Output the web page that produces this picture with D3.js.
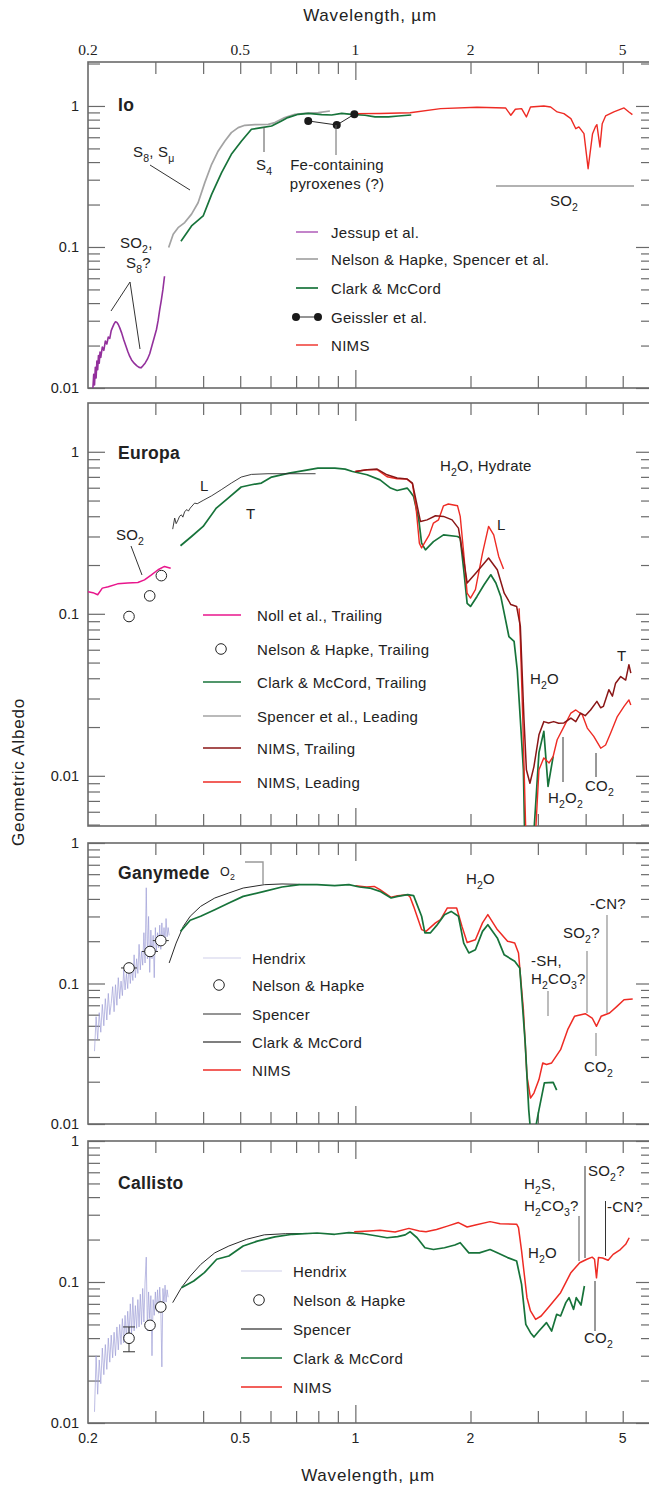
<!DOCTYPE html>
<html>
<head>
<meta charset="utf-8">
<script src="https://cdn.jsdelivr.net/npm/d3@7"></script>
<style>
  body { margin: 0; background: #fff; }
  svg text { font-family: "Liberation Sans", Arial, sans-serif; fill: #222; }
</style>
</head>
<body>
<div id="chart"></div>
<script>
// ---- data: [wavelength (um), geometric albedo] ----
var ioJessup = [[0.206,0.0100],[0.207,0.0125],[0.208,0.0105],[0.209,0.0140],[0.210,0.0118],[0.211,0.0155],[0.212,0.0135],[0.213,0.0170],[0.214,0.0150],[0.215,0.0180],[0.216,0.0165],[0.218,0.0195],[0.220,0.0185],[0.222,0.0215],[0.224,0.0205],[0.226,0.0230],[0.228,0.0225],[0.230,0.0255],[0.232,0.0270],[0.234,0.0285],[0.236,0.0295],[0.238,0.0292],[0.240,0.0282],[0.242,0.0268],[0.245,0.0245],[0.248,0.0220],[0.251,0.0200],[0.254,0.0182],[0.257,0.0168],[0.260,0.0158],[0.264,0.0150],[0.268,0.0144],[0.272,0.0140],[0.275,0.0139],[0.278,0.0143],[0.282,0.0150],[0.286,0.0160],[0.290,0.0175],[0.294,0.0200],[0.298,0.0228],[0.302,0.0260],[0.305,0.0300],[0.308,0.0360],[0.311,0.0420],[0.314,0.0500],[0.317,0.0620]];
var ioNelsonSpencer = [[0.325,0.099],[0.334,0.123],[0.344,0.137],[0.358,0.149],[0.373,0.171],[0.388,0.206],[0.404,0.286],[0.421,0.386],[0.438,0.480],[0.456,0.565],[0.474,0.647],[0.494,0.702],[0.514,0.729],[0.546,0.737],[0.592,0.741],[0.616,0.762],[0.654,0.827],[0.695,0.873],[0.738,0.887],[0.80,0.897],[0.858,0.921]];
var ioClark = [[0.350,0.110],[0.373,0.141],[0.400,0.166],[0.421,0.236],[0.447,0.337],[0.474,0.454],[0.504,0.565],[0.535,0.684],[0.569,0.702],[0.604,0.721],[0.641,0.783],[0.666,0.827],[0.709,0.873],[0.753,0.887],[0.817,0.868],[0.867,0.863],[0.921,0.887],[0.978,0.873],[1.06,0.859],[1.126,0.836],[1.22,0.836],[1.296,0.849],[1.40,0.863]];
var ioGeissler = [[0.753,0.783],[0.894,0.733],[0.994,0.873]];
var ioNims = [[1.00,0.882],[1.16,0.885],[1.39,0.896],[1.67,0.957],[2.08,0.979],[2.47,0.968],[2.55,0.859],[2.62,0.948],[2.72,0.957],[2.80,0.836],[2.87,0.984],[3.11,1.0],[3.24,0.984],[3.37,0.907],[3.51,0.882],[3.66,0.813],[3.77,0.690],[3.84,0.710],[3.96,0.636],[4.06,0.359],[4.17,0.636],[4.24,0.710],[4.28,0.737],[4.36,0.512],[4.42,0.749],[4.51,0.849],[4.74,0.907],[5.04,0.968],[5.19,0.907],[5.30,0.868]];

var euNoll = [[0.200,0.137],[0.206,0.135],[0.212,0.131],[0.218,0.144],[0.226,0.147],[0.239,0.153],[0.254,0.155],[0.270,0.156],[0.281,0.162],[0.293,0.174],[0.305,0.187],[0.317,0.196],[0.329,0.191]];
var euNelson = [[0.256,0.0962],[0.290,0.129],[0.311,0.172]];
var euClark = [[0.349,0.263],[0.373,0.300],[0.400,0.346],[0.433,0.449],[0.465,0.518],[0.503,0.606],[0.535,0.626],[0.568,0.641],[0.604,0.698],[0.671,0.738],[0.739,0.767],[0.798,0.793],[0.884,0.793],[0.94,0.782],[0.983,0.756],[1.073,0.721],[1.16,0.671],[1.236,0.597],[1.286,0.577],[1.366,0.597],[1.39,0.569],[1.42,0.530],[1.465,0.380],[1.49,0.273],[1.525,0.248],[1.60,0.279],[1.70,0.307],[1.85,0.300],[1.88,0.293],[1.92,0.187],[1.96,0.116],[2.0,0.111],[2.08,0.128],[2.17,0.151],[2.26,0.174],[2.33,0.155],[2.40,0.128],[2.47,0.0918],[2.52,0.0724],[2.60,0.0675],[2.65,0.0451],[2.70,0.0222],[2.75,0.0109],[2.77,0.0045]];
var euClark2 = [[2.93,0.0045],[3.02,0.0139],[3.11,0.0188],[3.19,0.0086],[3.29,0.0132]];
var euSpencer = [[0.333,0.333],[0.337,0.390],[0.340,0.360],[0.344,0.380],[0.347,0.400],[0.351,0.408],[0.354,0.395],[0.358,0.428],[0.363,0.440],[0.366,0.430],[0.370,0.449],[0.380,0.482],[0.386,0.478],[0.400,0.501],[0.421,0.535],[0.446,0.583],[0.474,0.641],[0.503,0.698],[0.535,0.725],[0.591,0.732],[0.671,0.732],[0.787,0.732]];
var euNimsTrail = [[1.0,0.756],[1.073,0.774],[1.14,0.782],[1.21,0.721],[1.286,0.688],[1.366,0.678],[1.41,0.641],[1.44,0.505],[1.48,0.371],[1.54,0.380],[1.62,0.403],[1.70,0.399],[1.79,0.380],[1.86,0.338],[1.92,0.216],[1.96,0.155],[2.08,0.182],[2.23,0.221],[2.35,0.187],[2.45,0.134],[2.55,0.114],[2.64,0.111],[2.70,0.0835],[2.76,0.0222],[2.80,0.0109],[2.86,0.0090],[2.93,0.0114],[3.02,0.0179],[3.11,0.0216],[3.20,0.0212],[3.30,0.0216],[3.40,0.0211],[3.51,0.0212],[3.66,0.0227],[3.77,0.0216],[3.88,0.0244],[3.99,0.0235],[4.12,0.0255],[4.28,0.0288],[4.38,0.0263],[4.45,0.0268],[4.60,0.034],[4.70,0.031],[4.79,0.0373],[4.94,0.041],[5.09,0.039],[5.19,0.0485],[5.25,0.043]];
var euNimsLead = [[1.0,0.756],[1.073,0.774],[1.14,0.774],[1.21,0.701],[1.286,0.681],[1.366,0.678],[1.41,0.634],[1.44,0.459],[1.47,0.273],[1.49,0.255],[1.56,0.307],[1.60,0.363],[1.65,0.380],[1.70,0.464],[1.75,0.476],[1.85,0.464],[1.88,0.399],[1.92,0.237],[1.96,0.134],[2.0,0.125],[2.06,0.141],[2.15,0.237],[2.23,0.346],[2.30,0.307],[2.37,0.226],[2.44,0.189]];
var euNimsLead2 = [[2.68,0.108],[2.70,0.069],[2.74,0.0222],[2.79,0.0045]];
var euNimsLead3 = [[2.96,0.0045],[3.02,0.0109],[3.11,0.0129],[3.21,0.0120],[3.29,0.0132],[3.37,0.0167],[3.51,0.0201],[3.66,0.0244],[3.77,0.0255],[3.92,0.0238],[4.04,0.0197],[4.20,0.0175],[4.38,0.0148],[4.51,0.0155],[4.65,0.0184],[4.84,0.0232],[5.04,0.0268],[5.19,0.0294],[5.25,0.0274]];

var gaHendrix = [[0.208,0.033],[0.210,0.058],[0.212,0.040],[0.214,0.062],[0.216,0.045],[0.218,0.071],[0.220,0.050],[0.222,0.078],[0.224,0.055],[0.226,0.085],[0.228,0.060],[0.230,0.072],[0.232,0.095],[0.234,0.063],[0.236,0.098],[0.238,0.070],[0.240,0.110],[0.242,0.078],[0.244,0.104],[0.246,0.082],[0.248,0.125],[0.250,0.090],[0.252,0.118],[0.254,0.092],[0.256,0.140],[0.258,0.100],[0.260,0.132],[0.262,0.105],[0.264,0.160],[0.266,0.110],[0.268,0.150],[0.270,0.118],[0.272,0.190],[0.274,0.125],[0.276,0.170],[0.278,0.135],[0.280,0.230],[0.282,0.140],[0.284,0.480],[0.286,0.150],[0.288,0.300],[0.290,0.120],[0.292,0.240],[0.294,0.150],[0.296,0.220],[0.298,0.110],[0.300,0.250],[0.302,0.170],[0.304,0.230],[0.306,0.180],[0.308,0.260],[0.310,0.175],[0.312,0.270],[0.314,0.190],[0.316,0.250],[0.318,0.200],[0.320,0.290],[0.322,0.215],[0.324,0.250],[0.326,0.220]];
var gaNelson = [[0.256,0.129],[0.2905,0.169],[0.310,0.202]];
var gaSpencer = [[0.326,0.140],[0.340,0.194],[0.355,0.255],[0.370,0.301],[0.394,0.354],[0.429,0.406],[0.467,0.441],[0.509,0.478],[0.578,0.505],[0.643,0.511],[0.715,0.508]];
var gaClark = [[0.349,0.235],[0.370,0.282],[0.394,0.301],[0.429,0.335],[0.467,0.374],[0.509,0.417],[0.578,0.453],[0.643,0.486],[0.715,0.505],[0.794,0.505],[0.883,0.497],[0.962,0.505],[1.025,0.486],[1.09,0.478],[1.16,0.453],[1.24,0.406],[1.29,0.417],[1.37,0.429],[1.42,0.422],[1.49,0.301],[1.52,0.229],[1.57,0.229],[1.63,0.258],[1.71,0.309],[1.78,0.326],[1.86,0.301],[1.92,0.194],[1.98,0.165],[2.06,0.174],[2.15,0.235],[2.22,0.262],[2.35,0.211],[2.45,0.160],[2.61,0.144],[2.69,0.129],[2.78,0.0377],[2.84,0.0126],[2.87,0.0090]];
var gaClark2 = [[2.95,0.0090],[3.02,0.0126],[3.12,0.0196],[3.29,0.0198],[3.36,0.0174]];
var gaNims = [[1.00,0.497],[1.07,0.486],[1.12,0.491],[1.16,0.465],[1.24,0.411],[1.29,0.422],[1.37,0.429],[1.39,0.413],[1.42,0.354],[1.49,0.242],[1.53,0.235],[1.62,0.270],[1.67,0.285],[1.74,0.345],[1.84,0.345],[1.90,0.255],[1.96,0.196],[2.06,0.205],[2.15,0.270],[2.22,0.309],[2.35,0.242],[2.50,0.200],[2.61,0.194],[2.67,0.165],[2.75,0.065],[2.81,0.0218],[2.87,0.0153],[2.93,0.0166],[3.02,0.0207],[3.09,0.0272],[3.16,0.0265],[3.26,0.0272],[3.44,0.0338],[3.59,0.0469],[3.74,0.0584],[3.99,0.061],[4.16,0.0568],[4.27,0.0496],[4.39,0.0584],[4.62,0.0617],[4.83,0.0688],[5.04,0.0767],[5.31,0.0775]];

var caHendrix = [[0.208,0.012],[0.210,0.030],[0.212,0.016],[0.214,0.028],[0.216,0.019],[0.218,0.034],[0.220,0.022],[0.222,0.036],[0.224,0.024],[0.226,0.040],[0.228,0.027],[0.230,0.042],[0.232,0.029],[0.234,0.044],[0.236,0.030],[0.238,0.048],[0.240,0.033],[0.242,0.050],[0.244,0.036],[0.246,0.055],[0.248,0.037],[0.250,0.058],[0.252,0.040],[0.254,0.062],[0.256,0.042],[0.258,0.070],[0.260,0.043],[0.262,0.078],[0.264,0.045],[0.266,0.068],[0.268,0.047],[0.270,0.075],[0.272,0.048],[0.274,0.082],[0.276,0.050],[0.278,0.090],[0.280,0.052],[0.282,0.100],[0.284,0.150],[0.286,0.045],[0.288,0.085],[0.290,0.055],[0.292,0.080],[0.294,0.030],[0.296,0.075],[0.298,0.058],[0.300,0.085],[0.302,0.062],[0.304,0.088],[0.306,0.060],[0.308,0.092],[0.310,0.065],[0.312,0.025],[0.314,0.090],[0.316,0.068],[0.318,0.095],[0.320,0.072],[0.322,0.088],[0.324,0.078]];
var caNelson = [[0.256,0.0399],[0.2905,0.0493],[0.310,0.0665]];
var caNelsonErr = [[0.256,0.032,0.048]];
var caSpencer = [[0.333,0.0714],[0.351,0.0912],[0.370,0.110],[0.394,0.133],[0.429,0.161],[0.467,0.180],[0.520,0.201],[0.578,0.216],[0.656,0.220],[0.746,0.221]];
var caClark = [[0.351,0.0912],[0.378,0.1017],[0.403,0.1165],[0.434,0.145],[0.467,0.153],[0.509,0.180],[0.554,0.195],[0.616,0.209],[0.685,0.218],[0.794,0.2226],[0.883,0.218],[0.962,0.224],[1.05,0.220],[1.14,0.212],[1.21,0.206],[1.29,0.210],[1.35,0.216],[1.39,0.2275],[1.45,0.206],[1.52,0.175],[1.60,0.170],[1.71,0.175],[1.82,0.183],[1.88,0.190],[1.98,0.161],[2.11,0.161],[2.25,0.170],[2.35,0.161],[2.50,0.149],[2.64,0.141],[2.72,0.0963],[2.79,0.050],[2.87,0.0437],[2.93,0.0407],[3.02,0.0449],[3.16,0.0515],[3.26,0.0449],[3.36,0.059],[3.44,0.0574],[3.55,0.0714],[3.62,0.0774],[3.72,0.064],[3.78,0.0774],[3.89,0.0687],[3.97,0.0937]];
var caNims = [[0.993,0.2275],[1.09,0.230],[1.16,0.2325],[1.27,0.226],[1.38,0.240],[1.47,0.230],[1.53,0.2275],[1.63,0.236],[1.74,0.249],[1.86,0.264],[1.96,0.2455],[2.06,0.254],[2.25,0.268],[2.39,0.259],[2.64,0.257],[2.67,0.243],[2.72,0.166],[2.81,0.0774],[2.87,0.0623],[2.96,0.0543],[3.06,0.0574],[3.22,0.0676],[3.44,0.084],[3.66,0.1165],[3.86,0.137],[4.03,0.145],[4.16,0.150],[4.22,0.145],[4.27,0.107],[4.32,0.149],[4.43,0.148],[4.58,0.1425],[4.72,0.157],[4.93,0.170],[5.09,0.185],[5.20,0.206]];

var xMinorTicks = [0.3, 0.4, 0.5, 0.6, 0.7, 0.8, 0.9, 2, 3, 4, 5];
var xLabelTicks = [0.2, 0.5, 1, 2, 5];

// colours
var C = {
  purple: "#93309c", gray: "#a3a3a3", green: "#17733a", red: "#ee2b24",
  darkred: "#8a1616", magenta: "#e8168c", hendrix: "#9c9cd6", black: "#2a2a2a"
};

// ---- layout ----
var W = 649, H = 1485, X0 = 88, X1 = 653;
var FS = 15;   // annotation / legend font size
var x = d3.scaleLog().domain([0.2, 6]).range([X0, X1]);

var svg = d3.select("#chart").append("svg")
    .attr("width", W).attr("height", H);

function rich(text, str, size) {
  var parts = str.split(/(_\{[^}]*\})/);
  var sub = false;
  parts.forEach(function(p) {
    if (!p) return;
    if (p.indexOf("_{") === 0) {
      text.append("tspan").attr("dy", sub ? 0 : size * 0.3)
        .attr("font-size", size * 0.7).text(p.slice(2, -1));
      sub = true;
    } else {
      text.append("tspan").attr("dy", sub ? -size * 0.3 : 0).text(p);
      sub = false;
    }
  });
  return text;
}

function label(g, str, px, py, opts) {
  opts = opts || {};
  var size = opts.size || FS;
  var t = g.append("text").attr("x", px).attr("y", py)
    .attr("font-size", size)
    .attr("letter-spacing", 0.2)
    .attr("text-anchor", opts.anchor || "start")
    .attr("font-weight", opts.bold ? "bold" : null);
  return rich(t, str, size);
}

function leader(g, pts, color, w) {
  g.append("path").attr("d", d3.line()(pts))
    .attr("fill", "none").attr("stroke", color || "#444")
    .attr("stroke-width", w || 1);
}

var panels = [
  {id: "io", name: "Io", top: 62, bottom: 388, ydom: [0.01, 2.05], labelY: 111,
   series: [
     {data: ioJessup, color: C.purple, w: 1.6},
     {data: ioNelsonSpencer, color: C.gray, w: 1.7},
     {data: ioClark, color: C.green, w: 1.7},
     {data: ioNims, color: C.red, w: 1.4},
     {data: ioGeissler, color: C.black, w: 1, dots: true}
   ],
   legend: {lx: 296, lw: 22, tx: 331, items: [
     {y: 232, text: "Jessup et al.", color: "#b466bd", w: 1.6},
     {y: 259, text: "Nelson & Hapke, Spencer et al.", color: C.gray, w: 1.7},
     {y: 288, text: "Clark & McCord", color: C.green, w: 1.7},
     {y: 317, text: "Geissler et al.", color: C.black, w: 1, dots: true},
     {y: 345, text: " NIMS", color: C.red, w: 1.4}
   ]}},
  {id: "eu", name: "Europa", top: 403, bottom: 826, ydom: [0.0049, 2.0], labelY: 459,
   series: [
     {data: euNoll, color: C.magenta, w: 1.5},
     {data: euClark, color: C.green, w: 1.7},
     {data: euClark2, color: C.green, w: 1.7},
     {data: euSpencer, color: C.black, w: 0.9},
     {data: euNimsLead, color: C.red, w: 1.4},
     {data: euNimsLead2, color: C.red, w: 1.4},
     {data: euNimsLead3, color: C.red, w: 1.4},
     {data: euNimsTrail, color: C.darkred, w: 1.5},
     {data: euNelson, circles: true, fill: "none"}
   ],
   legend: {lx: 203, lw: 38, tx: 257, items: [
     {y: 615, text: "Noll et al., Trailing", color: C.magenta, w: 1.5},
     {y: 649, text: "Nelson & Hapke, Trailing", circle: 221, fill: "none"},
     {y: 682, text: "Clark & McCord, Trailing", color: C.green, w: 1.7},
     {y: 716, text: "Spencer et al., Leading", color: "#777", w: 1.2},
     {y: 748, text: "NIMS, Trailing", color: C.darkred, w: 1.7},
     {y: 782, text: "NIMS, Leading", color: C.red, w: 1.5}
   ]}},
  {id: "ga", name: "Ganymede", top: 843, bottom: 1124, ydom: [0.01, 1], labelY: 879,
   series: [
     {data: gaHendrix, color: C.hendrix, w: 0.8, op: 0.85},
     {data: gaSpencer, color: C.black, w: 1},
     {data: gaNims, color: C.red, w: 1.5},
     {data: gaClark, color: C.green, w: 1.7},
     {data: gaClark2, color: C.green, w: 1.7},
     {data: gaNelson, circles: true, fill: "#fff", bars: true}
   ],
   legend: {lx: 203, lw: 38, tx: 252, items: [
     {y: 958, text: "Hendrix", color: "#d0d0ea", w: 1.2},
     {y: 985, text: "Nelson & Hapke", circle: 219, fill: "none"},
     {y: 1014, text: "Spencer", color: C.black, w: 1},
     {y: 1042, text: "Clark & McCord", color: "#555", w: 1.5},
     {y: 1070, text: "NIMS", color: C.red, w: 1.7}
   ]}},
  {id: "ca", name: "Callisto", top: 1141, bottom: 1423, ydom: [0.01, 1], labelY: 1189,
   series: [
     {data: caHendrix, color: C.hendrix, w: 0.8, op: 0.85},
     {data: caSpencer, color: C.black, w: 1},
     {data: caClark, color: C.green, w: 1.7},
     {data: caNims, color: C.red, w: 1.5},
     {data: caNelson, circles: true, fill: "#fff", err: caNelsonErr}
   ],
   legend: {lx: 241, lw: 41, tx: 293, items: [
     {y: 1271, text: "Hendrix", color: "#d0d0ea", w: 1.2},
     {y: 1300, text: "Nelson & Hapke", circle: 259, fill: "none"},
     {y: 1329, text: "Spencer", color: "#555", w: 1.4},
     {y: 1358, text: "Clark & McCord", color: C.green, w: 1.7},
     {y: 1387, text: "NIMS", color: C.red, w: 1.7}
   ]}}
];

var frameColor = "#6a6a6a";

panels.forEach(function(p) {
  var y = d3.scaleLog().domain(p.ydom).range([p.bottom, p.top]);
  var g = svg.append("g").attr("class", "panel " + p.id);

  // clip
  svg.append("clipPath").attr("id", "clip-" + p.id)
    .append("rect").attr("x", X0).attr("y", p.top)
    .attr("width", X1 - X0).attr("height", p.bottom - p.top);

  // x ticks, inward at top and bottom
  [[d3.axisBottom, p.top], [d3.axisTop, p.bottom]].forEach(function(a) {
    g.append("g").attr("transform", "translate(0," + a[1] + ")")
      .call(a[0](x).tickValues(xMinorTicks).tickSize(12).tickFormat(""))
      .call(function(s) { s.select(".domain").remove(); });
    g.append("g").attr("transform", "translate(0," + a[1] + ")")
      .call(a[0](x).tickValues([1]).tickSize(18).tickFormat(""))
      .call(function(s) { s.select(".domain").remove(); });
  });

  // y ticks
  var lo = Math.floor(Math.log10(p.ydom[0])), hi = Math.ceil(Math.log10(p.ydom[1]));
  var major = [], minor = [];
  for (var e = lo; e <= hi; e++) {
    var b = Math.pow(10, e);
    if (b >= p.ydom[0] * 0.999 && b <= p.ydom[1]) major.push(b);
    for (var k = 2; k <= 9; k++) {
      var v = k * b;
      if (v > p.ydom[0] && v < p.ydom[1]) minor.push(v);
    }
  }
  [[d3.axisRight, X0], [d3.axisLeft, X1]].forEach(function(a) {
    g.append("g").attr("transform", "translate(" + a[1] + ",0)")
      .call(a[0](y).tickValues(minor).tickSize(12).tickFormat(""))
      .call(function(s) { s.select(".domain").remove(); });
    g.append("g").attr("transform", "translate(" + a[1] + ",0)")
      .call(a[0](y).tickValues(major).tickSize(17).tickFormat(""))
      .call(function(s) { s.select(".domain").remove(); });
  });
  g.selectAll(".tick line").attr("stroke", frameColor).attr("stroke-width", 1.2);

  // y labels
  major.forEach(function(v) {
    g.append("text").attr("x", 79).attr("y", y(v) + 5)
      .attr("text-anchor", "end").attr("font-size", 14.5)
      .text(v >= 1 ? "1" : d3.format(".2~f")(v));
  });

  // frame
  g.append("rect").attr("x", X0).attr("y", p.top)
    .attr("width", X1 - X0).attr("height", p.bottom - p.top)
    .attr("fill", "none").attr("stroke", frameColor).attr("stroke-width", 1.6);

  // title
  g.append("text").attr("x", 118).attr("y", p.labelY)
    .attr("font-size", 17.5).attr("font-weight", "bold").attr("letter-spacing", 0.3)
    .text(p.name);

  // data
  var dg = g.append("g").attr("clip-path", "url(#clip-" + p.id + ")");
  var line = d3.line().x(function(d) { return x(d[0]); }).y(function(d) { return y(d[1]); });
  p.series.forEach(function(s) {
    if (s.circles) {
      if (s.bars) {
        dg.selectAll(null).data(s.data).enter().append("line")
          .attr("x1", function(d) { return x(d[0]) - 8; })
          .attr("x2", function(d) { return x(d[0]) + 8; })
          .attr("y1", function(d) { return y(d[1]); })
          .attr("y2", function(d) { return y(d[1]); })
          .attr("stroke", "#333").attr("stroke-width", 1);
      }
      if (s.err) {
        s.err.forEach(function(d) {
          leader(dg, [[x(d[0]), y(d[1])], [x(d[0]), y(d[2])]], "#333", 1);
          leader(dg, [[x(d[0]) - 6, y(d[1])], [x(d[0]) + 6, y(d[1])]], "#333", 1);
          leader(dg, [[x(d[0]) - 6, y(d[2])], [x(d[0]) + 6, y(d[2])]], "#333", 1);
        });
      }
      dg.selectAll(null).data(s.data).enter().append("circle")
        .attr("cx", function(d) { return x(d[0]); })
        .attr("cy", function(d) { return y(d[1]); })
        .attr("r", 5.3).attr("fill", s.fill).attr("stroke", "#222").attr("stroke-width", 1);
      return;
    }
    dg.append("path").datum(s.data).attr("d", line)
      .attr("fill", "none").attr("stroke", s.color)
      .attr("stroke-width", s.w).attr("stroke-linejoin", "round")
      .attr("opacity", s.op || 1);
    if (s.dots) {
      dg.selectAll(null).data(s.data).enter().append("circle")
        .attr("cx", function(d) { return x(d[0]); })
        .attr("cy", function(d) { return y(d[1]); })
        .attr("r", 4).attr("fill", "#1a1a1a");
    }
  });

  // legend
  var L = p.legend;
  L.items.forEach(function(it) {
    if (it.circle) {
      g.append("circle").attr("cx", it.circle).attr("cy", it.y).attr("r", 5.3)
        .attr("fill", "none").attr("stroke", "#222").attr("stroke-width", 1);
    } else {
      g.append("line").attr("x1", L.lx).attr("x2", L.lx + L.lw)
        .attr("y1", it.y).attr("y2", it.y)
        .attr("stroke", it.color).attr("stroke-width", it.w);
      if (it.dots) {
        [L.lx, L.lx + L.lw].forEach(function(cx) {
          g.append("circle").attr("cx", cx).attr("cy", it.y).attr("r", 4).attr("fill", "#1a1a1a");
        });
      }
    }
    g.append("text").attr("x", L.tx).attr("y", it.y + 5.5)
      .attr("font-size", FS).attr("letter-spacing", 0.3).text(it.text);
  });
});

// ---- annotations ----
var an = svg.append("g").attr("class", "annotations");
// Io
label(an, "S_{8}, S_{μ}", 133, 157);
leader(an, [[150, 165], [190, 190]], "#333");
label(an, "SO_{2},", 120, 248);
label(an, "S_{8}?", 126, 268);
leader(an, [[111, 311], [130, 282], [140, 349]], "#333");
label(an, "S_{4}", 256, 170);
leader(an, [[264, 127], [264, 152]], "#555");
label(an, "Fe-containing", 337, 170, {anchor: "middle"});
label(an, "pyroxenes (?)", 337, 189, {anchor: "middle"});
leader(an, [[336, 125], [336, 155]], "#666");
leader(an, [[496, 186], [634, 186]], "#999", 1.6);
label(an, "SO_{2}", 550, 206);
// Europa
label(an, "L", 200, 491);
label(an, "T", 246, 519);
label(an, "SO_{2}", 116, 540);
leader(an, [[131, 546], [142, 575]], "#333");
label(an, "H_{2}O, Hydrate", 440, 471);
label(an, "L", 497, 530);
label(an, "H_{2}O", 530, 684);
label(an, "T", 617, 661);
leader(an, [[563, 737], [563, 782]], "#333");
label(an, "H_{2}O_{2}", 548, 803);
leader(an, [[596, 753], [596, 777]], "#333");
label(an, "CO_{2}", 585, 791);
// Ganymede
label(an, "O_{2}", 220, 876, {size: 12.5});
leader(an, [[245, 862], [263, 862], [263, 884]], "#999", 1.4);
label(an, "H_{2}O", 466, 884);
label(an, "-SH,", 531, 966);
label(an, "H_{2}CO_{3}?", 531, 984);
leader(an, [[548, 991], [548, 1016]], "#999", 1.3);
label(an, "SO_{2}?", 563, 938);
leader(an, [[587, 951], [587, 1013]], "#999", 1.3);
label(an, "-CN?", 590, 909);
leader(an, [[607, 915], [607, 1013]], "#999", 1.3);
leader(an, [[596, 1033], [596, 1056]], "#999", 1.3);
label(an, "CO_{2}", 584, 1072);
// Callisto
label(an, "H_{2}S,", 524, 1189);
label(an, "H_{2}CO_{3}?", 524, 1211);
leader(an, [[579, 1216], [579, 1261]], "#555");
label(an, "SO_{2}?", 588, 1176);
leader(an, [[585, 1166], [585, 1258]], "#333");
label(an, "-CN?", 607, 1212);
leader(an, [[605.5, 1201], [605.5, 1256]], "#333");
label(an, "H_{2}O", 528, 1258);
leader(an, [[595, 1281], [595, 1331]], "#333");
label(an, "CO_{2}", 584, 1343);

// ---- outer axis labels ----
xLabelTicks.forEach(function(v) {
  svg.append("text").attr("x", x(v)).attr("y", 55).attr("text-anchor", "middle")
    .attr("font-size", 15.5).style("font-family", "'Liberation Serif', 'Times New Roman', serif")
    .text(v);
  svg.append("text").attr("x", x(v)).attr("y", 1443).attr("text-anchor", "middle")
    .attr("font-size", 14).text(v);
});
svg.append("text").attr("x", 370).attr("y", 21).attr("text-anchor", "middle")
  .attr("font-size", 17).attr("letter-spacing", 0.8).text("Wavelength, µm");
svg.append("text").attr("x", 368).attr("y", 1481).attr("text-anchor", "middle")
  .attr("font-size", 17).attr("letter-spacing", 0.8).text("Wavelength, µm");
svg.append("text").attr("transform", "translate(24,772) rotate(-90)")
  .attr("text-anchor", "middle").attr("font-size", 17).attr("letter-spacing", 0.8)
  .text("Geometric Albedo");
</script>
</body>
</html>
